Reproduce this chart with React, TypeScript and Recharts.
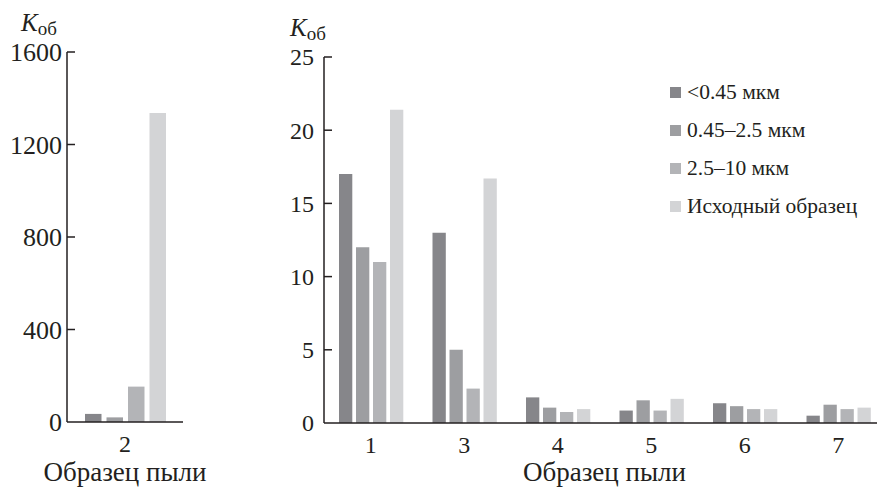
import { Bar, BarChart, Label, Legend, XAxis, YAxis } from "recharts";

const FONT = "Liberation Serif, DejaVu Serif, serif";
const INK = "#231f20";

const seriesKeys = ["fine", "mid", "coarse", "orig"];
const seriesNames = ["<0.45 мкм", "0.45–2.5 мкм", "2.5–10 мкм", "Исходный образец"];
const seriesColors = ["#86868a", "#9d9ea1", "#b3b4b7", "#d3d4d6"];

// panel with sample 2 (large scale)
const leftSamples = ["2"];
const leftFine = [35];
const leftMid = [20];
const leftCoarse = [153];
const leftOrig = [1336];
const leftTicks = [0, 400, 800, 1200, 1600];

// panel with the other samples
const rightSamples = ["1", "3", "4", "5", "6", "7"];
const rightFine = [17, 13, 1.75, 0.85, 1.35, 0.5];
const rightMid = [12, 5, 1.05, 1.55, 1.15, 1.25];
const rightCoarse = [11, 2.35, 0.75, 0.85, 0.95, 0.95];
const rightOrig = [21.4, 16.7, 0.95, 1.65, 0.95, 1.05];
const rightTicks = [0, 5, 10, 15, 20, 25];

const buildRows = (
  samples: string[],
  fine: number[],
  mid: number[],
  coarse: number[],
  orig: number[]
) =>
  samples.map((s, i) => ({
    sample: s,
    fine: fine[i],
    mid: mid[i],
    coarse: coarse[i],
    orig: orig[i],
  }));

const leftData = buildRows(leftSamples, leftFine, leftMid, leftCoarse, leftOrig);
const rightData = buildRows(rightSamples, rightFine, rightMid, rightCoarse, rightOrig);

const makeYTick = (gap: number, size: number) => (props: any) => {
  const { x, y, payload } = props;
  return (
    <g>
      {payload.value !== 0 && (
        <line x1={x + gap} x2={x + gap + 8} y1={y} y2={y} stroke={INK} strokeWidth={1.5} />
      )}
      <text
        x={x}
        y={y}
        dy="0.35em"
        textAnchor="end"
        style={{ fontFamily: FONT }}
        fontSize={size}
        fill={INK}
      >
        {payload.value}
      </text>
    </g>
  );
};

const kLabel = (shift: number) => (props: any) => {
  const vb = props.viewBox;
  return (
    <text x={vb.x + vb.width + shift} y={vb.y - 21} style={{ fontFamily: FONT }} fill={INK}>
      <tspan fontStyle="italic" fontSize={25}>
        K
      </tspan>
      <tspan fontSize={19} dy={4}>
        об
      </tspan>
    </text>
  );
};

const xTitle = (props: any) => {
  const vb = props.viewBox;
  return (
    <text
      x={vb.x + vb.width / 2}
      y={vb.y + vb.height - 7}
      textAnchor="middle"
      style={{ fontFamily: FONT }}
      fontSize={27}
      fill={INK}
    >
      Образец пыли
    </text>
  );
};

function LegendBox(props: any) {
  const items = [...(props.payload || [])].sort(
    (a: any, b: any) => seriesNames.indexOf(a.value) - seriesNames.indexOf(b.value)
  );
  return (
    <div style={{ fontFamily: FONT, fontSize: 21.5, color: INK }}>
      {items.map((it: any) => (
        <div
          key={it.value}
          style={{ display: "flex", alignItems: "center", height: 38, whiteSpace: "nowrap" }}
        >
          <span
            style={{
              display: "inline-block",
              width: 11,
              height: 11,
              background: it.color,
              marginRight: 6,
            }}
          />
          {it.value}
        </div>
      ))}
    </div>
  );
}

const tickStyle = { fontSize: 24, fill: INK, style: { fontFamily: FONT } };

export default function App() {
  return (
    <div
      style={{
        position: "absolute",
        left: 0,
        top: 0,
        width: 877,
        height: 488,
        overflow: "hidden",
        background: "#fff",
        fontFamily: FONT,
      }}
    >
      <div style={{ position: "absolute", left: 0, top: 0 }}>
        <BarChart
          width={230}
          height={488}
          data={leftData}
          margin={{ top: 52, right: 47, bottom: 0, left: 0 }}
          barSize={16.5}
          barGap={5}
          style={{ fontFamily: FONT }}
        >
          <XAxis
            dataKey="sample"
            height={66}
            tickLine={false}
            tickSize={0}
            tickMargin={13}
            tick={tickStyle}
            axisLine={{ stroke: INK, strokeWidth: 1.5 }}
          >
            <Label content={xTitle} />
          </XAxis>
          <YAxis
            width={67}
            domain={[0, 1600]}
            ticks={leftTicks}
            interval={0}
            tickLine={false}
            tickSize={0}
            tickMargin={5}
            tick={makeYTick(5, 26)}
            axisLine={{ stroke: INK, strokeWidth: 1.5 }}
          >
            <Label content={kLabel(-46)} />
          </YAxis>
          {seriesKeys.map((k, i) => (
            <Bar
              key={k}
              dataKey={k}
              name={seriesNames[i]}
              fill={seriesColors[i]}
              isAnimationActive={false}
            />
          ))}
        </BarChart>
      </div>
      <div style={{ position: "absolute", left: 230, top: 0 }}>
        <BarChart
          width={655}
          height={488}
          data={rightData}
          margin={{ top: 57, right: 0, bottom: 0, left: 0 }}
          barSize={13.3}
          barGap={3.7}
          style={{ fontFamily: FONT }}
        >
          <XAxis
            dataKey="sample"
            height={65}
            tickLine={false}
            tickSize={0}
            tickMargin={13}
            tick={tickStyle}
            interval={0}
            axisLine={{ stroke: INK, strokeWidth: 1.5 }}
          >
            <Label content={xTitle} />
          </XAxis>
          <YAxis
            width={94}
            domain={[0, 25]}
            ticks={rightTicks}
            interval={0}
            tickLine={false}
            tickSize={0}
            tickMargin={10}
            tick={makeYTick(10, 24)}
            axisLine={{ stroke: INK, strokeWidth: 1.5 }}
          >
            <Label content={kLabel(-34)} />
          </YAxis>
          <Legend
            layout="vertical"
            align="center"
            verticalAlign="middle"
            content={<LegendBox />}
            wrapperStyle={{ left: 440, top: 73, width: 230, height: 160 }}
          />
          {seriesKeys.map((k, i) => (
            <Bar
              key={k}
              dataKey={k}
              name={seriesNames[i]}
              fill={seriesColors[i]}
              isAnimationActive={false}
            />
          ))}
        </BarChart>
      </div>
    </div>
  );
}
